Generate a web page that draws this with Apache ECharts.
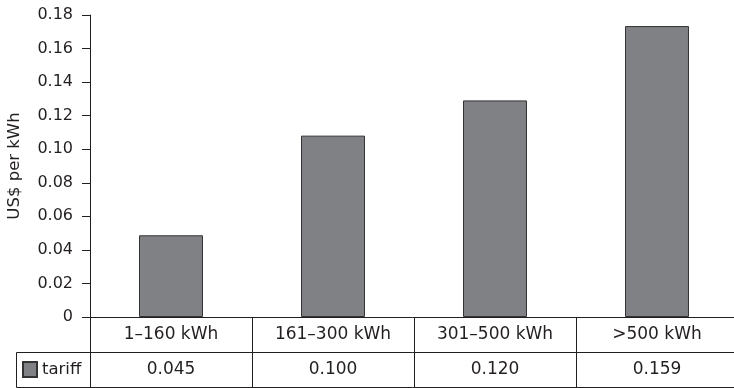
<!DOCTYPE html>
<html>
<head>
<meta charset="utf-8">
<script src="https://cdn.jsdelivr.net/npm/echarts@6/dist/echarts.min.js"></script>
<style>html,body{margin:0;padding:0;background:#fff}#c{width:734px;height:388px}</style>
</head>
<body>
<div id="c"></div>
<script>
// Data
var categories = ['1\u2013160 kWh', '161\u2013300 kWh', '301\u2013500 kWh', '>500 kWh'];
var barValues = [0.0487, 0.1081, 0.1291, 0.1734];   // bar heights as drawn
var tableLabels = ['0.045', '0.100', '0.120', '0.159']; // values printed in data table
var seriesName = 'tariff';
var yMin = 0, yMax = 0.18, yInterval = 0.02;

var ink = '#231f20';
var font = 'DejaVu Sans';
var fsTick = 16;
var fsTable = 17;

var chart = echarts.init(document.getElementById('c'), null, {renderer: 'canvas'});
chart.setOption({
  animation: false,
  backgroundColor: '#fff',
  grid: {left: 90, right: -4, top: 15, bottom: 71, containLabel: false, outerBoundsMode: 'none'},
  legend: {
    data: [seriesName], left: 17, top: 356, icon: 'rect', itemWidth: 14, itemHeight: 15,
    textStyle: {color: ink, fontFamily: font, fontSize: 16.5},
    selectedMode: false
  },
  xAxis: [{
    type: 'category', data: categories, position: 'bottom',
    axisLine: {show: true, lineStyle: {color: ink, width: 1}},
    axisTick: {show: true, length: 70, lineStyle: {color: ink, width: 1}},
    axisLabel: {color: ink, fontFamily: font, fontSize: fsTable, margin: 9, lineHeight: 17}
  }, {
    type: 'category', data: tableLabels, position: 'bottom', offset: 35,
    axisLine: {show: true, lineStyle: {color: ink, width: 1}},
    axisTick: {show: false},
    axisLabel: {color: ink, fontFamily: font, fontSize: fsTable, margin: 9, lineHeight: 17}
  }, {
    type: 'category', data: tableLabels, position: 'bottom', offset: 70,
    axisLine: {show: true, lineStyle: {color: ink, width: 1}},
    axisTick: {show: false}, axisLabel: {show: false}
  }],
  yAxis: {
    type: 'value', min: yMin, max: yMax, interval: yInterval,
    name: 'US$ per kWh', nameLocation: 'middle', nameGap: 67, nameRotate: 90,
    nameTextStyle: {color: ink, fontFamily: font, fontSize: 16.5},
    axisLine: {show: true, lineStyle: {color: ink, width: 1}},
    axisTick: {show: true, length: 8, lineStyle: {color: ink, width: 1}},
    splitLine: {show: false},
    axisLabel: {
      color: ink, fontFamily: font, fontSize: fsTick, margin: 17,
      formatter: function (v) { return v === 0 ? '0' : v.toFixed(2); }
    }
  },
  series: [{
    name: seriesName, type: 'bar', data: barValues, xAxisIndex: 0, barWidth: '39.5%',
    itemStyle: {color: '#808184', borderColor: '#333333', borderWidth: 1}
  }]
});

// Table frame around legend cell and axis extension (layout, not data)
var y0 = chart.convertToPixel({yAxisIndex: 0}, 0);
var xL = 90;
var rowTop = Math.round(y0 + 35) + 0.5, rowBot = Math.round(y0 + 70) + 0.5;
chart.setOption({
  graphic: [
    {type: 'line', shape: {x1: xL + 0.5, y1: y0, x2: xL + 0.5, y2: rowBot}, style: {stroke: ink, lineWidth: 1}},
    {type: 'line', shape: {x1: 16.5, y1: rowTop, x2: xL, y2: rowTop}, style: {stroke: ink, lineWidth: 1}},
    {type: 'line', shape: {x1: 16.5, y1: rowBot, x2: xL, y2: rowBot}, style: {stroke: ink, lineWidth: 1}},
    {type: 'line', shape: {x1: 16.5, y1: rowTop, x2: 16.5, y2: rowBot}, style: {stroke: ink, lineWidth: 1}}
  ]
});
</script>
</body>
</html>
